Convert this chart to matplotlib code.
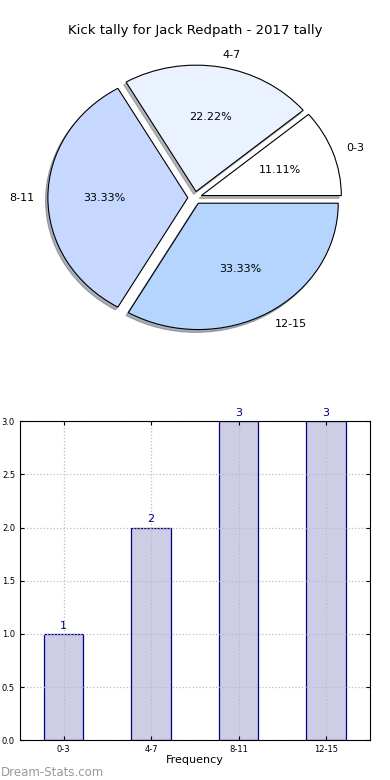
import matplotlib
matplotlib.use('Agg')
import matplotlib.pyplot as plt

categories = ['0-3', '4-7', '8-11', '12-15']
counts = [1, 2, 3, 3]
pie_colors = ['#ffffff', '#ebf2ff', '#c6d8ff', '#b5d5ff']
title = 'Kick tally for Jack Redpath - 2017 tally'

fig = plt.figure(figsize=(3.9, 7.8), dpi=100)

# pie on top
ax1 = fig.add_axes([0.051, 0.544, 0.897, 0.405])
ax1.pie(counts, labels=categories, colors=pie_colors, autopct='%.2f%%',
        explode=[0.05] * len(counts),
        shadow={'ox': -0.012, 'oy': -0.016, 'shade': 0.55},
        wedgeprops={'edgecolor': 'black', 'linewidth': 0.8},
        textprops={'fontsize': 8})
ax1.set_aspect('auto')
ax1.set_xlim(-1.25, 1.25)
ax1.set_ylim(-1.25, 1.25)
ax1.set_title(title, fontsize=9.5, pad=4)

# bar chart below
ax2 = fig.add_axes([0.051, 0.051, 0.897, 0.409])
xpos = list(range(len(categories)))
bars = ax2.bar(xpos, counts, width=0.45, color='#cdcde6', edgecolor='#000080',
               linewidth=0.9, zorder=1)
for b, v in zip(bars, counts):
    ax2.text(b.get_x() + b.get_width() / 2, v + 0.03, str(v), ha='center',
             va='bottom', color='#000080', fontsize=8)
ax2.set_xticks(xpos)
ax2.set_xticklabels(categories)
ax2.set_xlim(-0.5, 3.5)
ax2.set_ylim(0, 3.0)
ax2.set_yticks([0.0, 0.5, 1.0, 1.5, 2.0, 2.5, 3.0])
ax2.tick_params(labelsize=6, length=3, direction='in', top=True, right=True)
ax2.set_axisbelow(False)
ax2.grid(True, linestyle=':', color='#bbbbbb', linewidth=0.9)
for s in ax2.spines.values():
    s.set_zorder(4)
ax2.set_xlabel('Frequency', fontsize=8, labelpad=1)

fig.text(0.003, 0.005, 'Dream-Stats.com', color='#999999', fontsize=8.5)

fig.savefig('out.png', dpi=100)
